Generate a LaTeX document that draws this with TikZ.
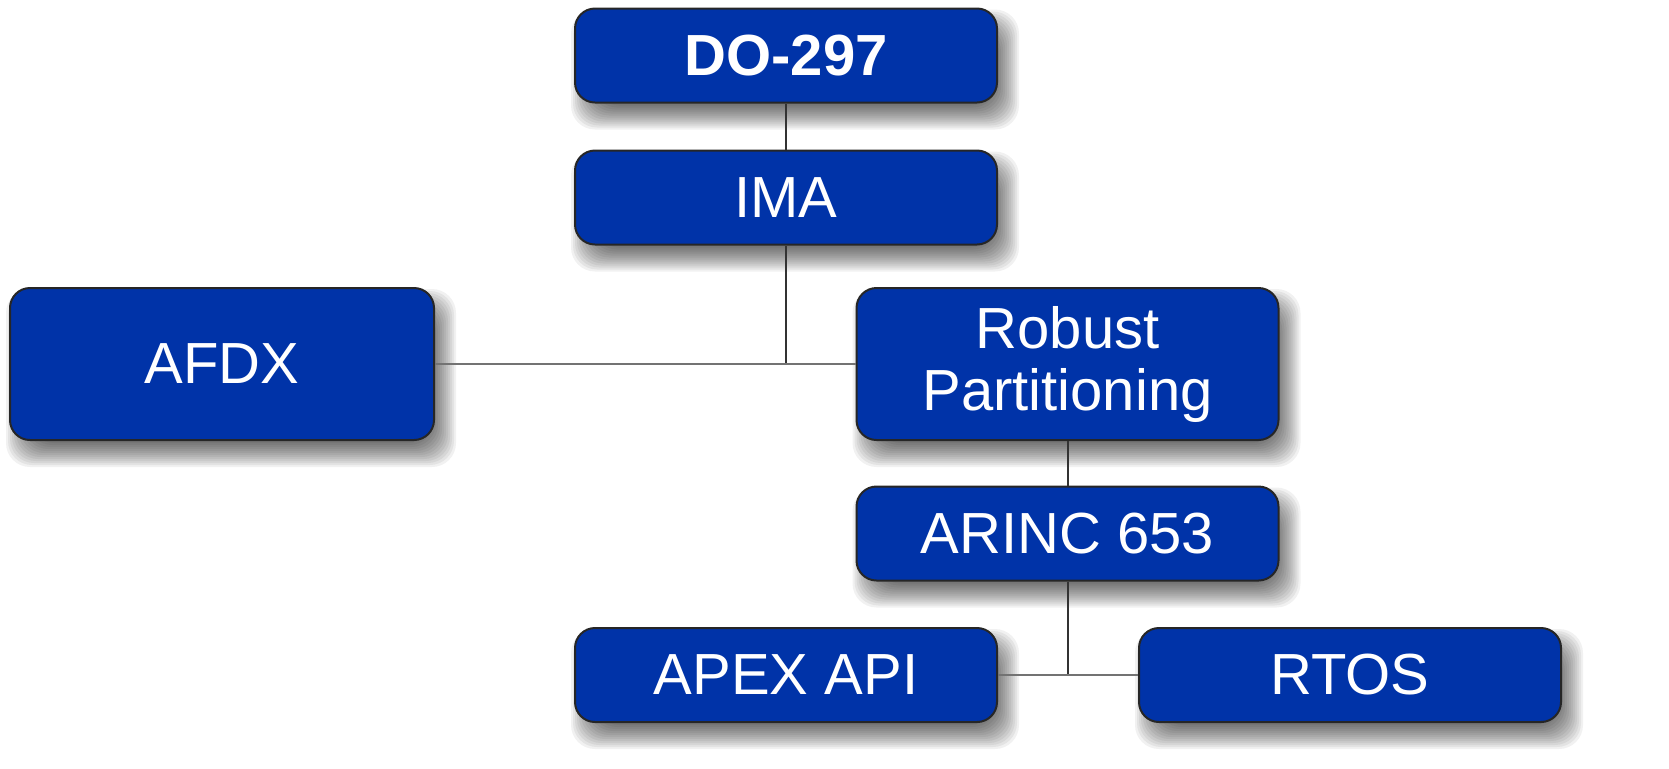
\documentclass[tikz,border=0pt]{standalone}
\usepackage{fontspec}
\setmainfont{Liberation Sans}
\usetikzlibrary{calc}
\definecolor{boxblue}{RGB}{0,51,168}
\pgfdeclarelayer{bg}
\pgfsetlayers{bg,main}
\newcommand{\softshadow}[1]{%
  \begin{pgfonlayer}{bg}
  \foreach \i in {-6,...,6}{
    \fill[black, opacity=0.055, rounded corners=12pt]
      ($(#1.south west)+(9-2*\i,14+2*\i)$) rectangle ($(#1.north east)+(9+2*\i,14-2*\i)$);
  }
  \end{pgfonlayer}}
\begin{document}
\begin{tikzpicture}[x=0.5pt,y=-0.5pt,
  box/.style={draw=black!85, line width=1pt, fill=boxblue, text=white,
    rounded corners=10pt, minimum width=211pt, minimum height=47pt,
    align=center, inner sep=0pt,
    font=\fontsize{29}{31}\selectfont},
  link/.style={draw=black!80, line width=1pt},
  hlink/.style={draw=black!55, line width=1.4pt}]
\begin{pgfonlayer}{bg}
\fill[white] (0,0) rectangle (1669,768);
\end{pgfonlayer}
\node[box, font=\fontsize{29}{31}\selectfont\bfseries] (do) at (786,55.5) {DO-297};
\node[box] (ima) at (786,197.5) {IMA};
\node[box, minimum width=212pt, minimum height=76pt] (afdx) at (222,364) {AFDX};
\node[box, minimum height=76pt] (rp) at (1067.5,364) {Robust\\Partitioning};
\node[box] (arinc) at (1067.5,533.5) {ARINC 653};
\node[box] (apex) at (786,675) {APEX API};
\node[box] (rtos) at (1350,675) {RTOS};
\softshadow{do}\softshadow{ima}\softshadow{afdx}\softshadow{rp}
\softshadow{arinc}\softshadow{apex}\softshadow{rtos}
\draw[link] (do) -- (ima);
\draw[link] (ima.south) -- (ima.south |- afdx.east);
\draw[hlink] (afdx.east) -- (rp.west);
\draw[link] (rp) -- (arinc);
\draw[link] (arinc.south) -- (arinc.south |- apex.east);
\draw[hlink] (apex.east) -- (rtos.west);
\pgfresetboundingbox
\path[use as bounding box] (0,0) rectangle (1669,768);
\end{tikzpicture}
\end{document}
